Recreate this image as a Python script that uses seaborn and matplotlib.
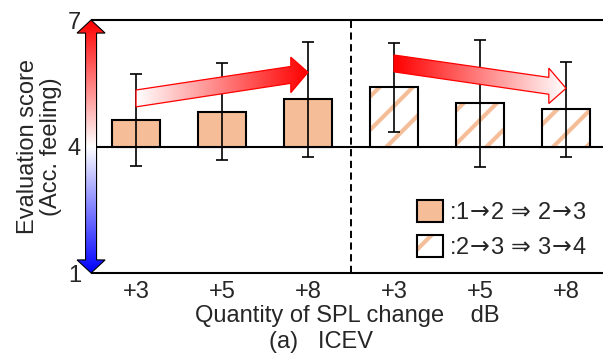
import numpy as np
import pandas as pd
import matplotlib
matplotlib.use('Agg')
import matplotlib.pyplot as plt
import seaborn as sns
from matplotlib.patches import Polygon, Patch
from matplotlib.colors import LinearSegmentedColormap
from matplotlib.legend_handler import HandlerTuple

# Data
spl_labels = ['+3', '+5', '+8', '+3', '+5', '+8']
conditions = [r':1$\!{\rightarrow}\!$2 $\!{\Rightarrow}\!$ 2$\!{\rightarrow}\!$3'] * 3 + \
             [r':2$\!{\rightarrow}\!$3 $\!{\Rightarrow}\!$ 3$\!{\rightarrow}\!$4'] * 3
scores = [4.62, 4.83, 5.12, 5.40, 5.02, 4.88]
score_sd = [1.09, 1.14, 1.37, 1.06, 1.50, 1.12]
baseline = 4
y_ticks = [1, 4, 7]

# trend arrows: (start bar, end bar, start score, end score, direction)
trend_arrows = [
    (0, 2, 5.14, 5.76, 'up'),
    (3, 5, 5.97, 5.38, 'down'),
]

peach = '#F5BE98'

sns.set_style('white')
plt.rcParams['font.family'] = ['Liberation Sans', 'DejaVu Sans']
plt.rcParams['font.size'] = 17
plt.rcParams['mathtext.fontset'] = 'dejavusans'
plt.rcParams['hatch.linewidth'] = 3.0

fig = plt.figure(figsize=(6.03, 3.56), dpi=100)
ax = fig.add_axes([92 / 603, 83 / 356, 511 / 603, 253 / 356])

df = pd.DataFrame({
    'bar': range(len(scores)),
    'height': [s - baseline for s in scores],
    'condition': conditions,
})
sns.barplot(data=df, x='bar', y='height', bottom=baseline, color=peach,
            saturation=1, width=0.56, edgecolor='black', linewidth=1.5,
            errorbar=None, ax=ax, zorder=2)

hatched = [i for i, c in enumerate(conditions) if c == conditions[-1]]
for i in hatched:
    p = ax.patches[i]
    p.set_facecolor('white')
    p.set_edgecolor(peach)
    p.set_linewidth(0)
    p.set_hatch('/')
ax.bar(hatched, [scores[i] - baseline for i in hatched], bottom=baseline,
       width=0.56, fill=False, edgecolor='black', linewidth=1.5, zorder=3)

ax.errorbar(range(len(scores)), scores, yerr=score_sd, fmt='none',
            ecolor='black', elinewidth=1.2, capsize=4, capthick=1.2, zorder=4)

ax.axhline(baseline, color='black', lw=1.5, zorder=1)
ax.axvline(2.5, color='black', lw=1.4, ls=(0, (3.7, 2.3)), zorder=1)


def diag_arrow(x0, x1, y0, y1, direction):
    shaft, head = 0.20, 0.42
    xh = x1 - 0.2
    yh = y0 + (y1 - y0) * (xh - x0) / (x1 - x0)
    verts = [(x0, y0 + shaft), (xh, yh + shaft), (xh, yh + head), (x1, y1),
             (xh, yh - head), (xh, yh - shaft), (x0, y0 - shaft)]
    poly = Polygon(verts, closed=True, facecolor='none', edgecolor='red',
                   lw=0.9, zorder=6)
    ax.add_patch(poly)
    cols = ['white', 'red'] if direction == 'up' else ['red', 'white']
    cmap = LinearSegmentedColormap.from_list('g', cols)
    grad = np.linspace(0, 1, 256).reshape(1, -1)
    ys = [v for _, v in verts]
    im = ax.imshow(grad, extent=[x0, x1, min(ys), max(ys)], cmap=cmap,
                   aspect='auto', zorder=5, origin='lower')
    im.set_clip_path(poly)


for a in trend_arrows:
    diag_arrow(*a)

# vertical blue-white-red arrow standing in for the y axis
xc = -0.523
sw, hw, hl = 0.064, 0.163, 0.31
lo, hi = y_ticks[0], y_ticks[-1]
verts = [(xc, hi), (xc + hw, hi - hl), (xc + sw, hi - hl), (xc + sw, lo + hl),
         (xc + hw, lo + hl), (xc, lo), (xc - hw, lo + hl), (xc - sw, lo + hl),
         (xc - sw, hi - hl), (xc - hw, hi - hl)]
vpoly = Polygon(verts, closed=True, facecolor='none', edgecolor='black',
                lw=0.8, zorder=8, clip_on=False)
ax.add_patch(vpoly)
vgrad = np.linspace(0, 1, 256).reshape(-1, 1)
vim = ax.imshow(vgrad, extent=[xc - hw, xc + hw, lo, hi], cmap='bwr',
                aspect='auto', zorder=7, origin='lower')
vim.set_clip_box(fig.bbox)
vim.set_clip_path(vpoly)

ax.set_xlim(-0.512, 5.43)
ax.set_ylim(1, 7)

for side in ['left', 'right']:
    ax.spines[side].set_visible(False)
for side in ['top', 'bottom']:
    ax.spines[side].set_linewidth(1.5)
    ax.spines[side].set_color('black')

ax.set_xticks(range(len(spl_labels)))
ax.set_xticklabels(spl_labels)
ax.set_yticks(y_ticks)
ax.set_yticklabels([str(t) for t in y_ticks])
ax.tick_params(axis='both', length=0)
ax.tick_params(axis='x', pad=6)
ax.tick_params(axis='y', pad=8)

ax.set_xlabel('Quantity of SPL change    dB', labelpad=1)
ax.set_ylabel('Evaluation score\n(Acc. feeling)', linespacing=1.1)
ax.yaxis.set_label_coords(-0.058, 0.5)

fig.text(321 / 603, 1 - 342 / 356, '(a)   ICEV', ha='center', va='center')

solid = Patch(facecolor=peach, edgecolor='black', lw=1.5)
hatch_fill = Patch(facecolor='white', edgecolor=peach, lw=0, hatch='/')
hatch_edge = Patch(facecolor='none', edgecolor='black', lw=1.5)
ax.legend([solid, (hatch_fill, hatch_edge)], [conditions[0], conditions[-1]],
          handler_map={tuple: HandlerTuple(ndivide=1, pad=0)},
          loc='upper left', bbox_to_anchor=(417 / 603, 1 - 200 / 356),
          bbox_transform=fig.transFigure, frameon=False, borderpad=0,
          borderaxespad=0, handlelength=1.1, handleheight=1.05,
          handletextpad=0.25, labelspacing=0.46)

fig.savefig('out.png', dpi=100)
